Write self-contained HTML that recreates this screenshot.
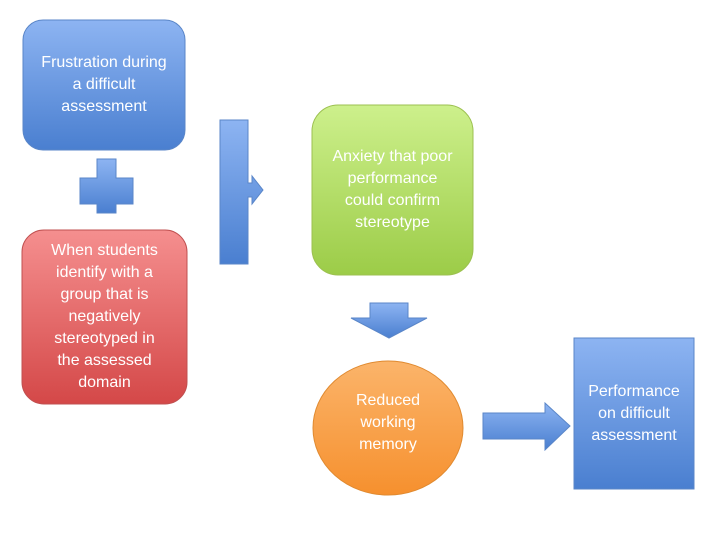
<!DOCTYPE html>
<html><head><style>
body{margin:0;width:720px;height:540px;background:#fff;overflow:hidden;position:relative;font-family:"Liberation Sans",sans-serif}
.b{position:absolute;display:flex;align-items:center;justify-content:center;text-align:center;color:#fff;font-size:16px;line-height:22px;box-sizing:border-box}
</style></head><body>
<svg width="720" height="540" style="position:absolute;left:0;top:0">
<defs>
<linearGradient id="bl" x1="0" y1="0" x2="0" y2="1"><stop offset="0" stop-color="#8db4f2"/><stop offset="1" stop-color="#4a7fd0"/></linearGradient>
<linearGradient id="rd" x1="0" y1="0" x2="0" y2="1"><stop offset="0" stop-color="#f58f8f"/><stop offset="1" stop-color="#d44848"/></linearGradient>
<linearGradient id="gr" x1="0" y1="0" x2="0" y2="1"><stop offset="0" stop-color="#cdf08c"/><stop offset="1" stop-color="#9ccc48"/></linearGradient>
<linearGradient id="or" x1="0" y1="0" x2="0" y2="1"><stop offset="0" stop-color="#fbb46a"/><stop offset="1" stop-color="#f6902e"/></linearGradient>
</defs>
<rect x="23" y="20" width="162" height="130" rx="20" fill="url(#bl)" stroke="#5a86c8"/>
<path d="M97 159h19v19h17v26h-17v9h-19v-9h-17v-26h17z" fill="url(#bl)" stroke="#5a86c8"/>
<rect x="22" y="230" width="165" height="174" rx="22" fill="url(#rd)" stroke="#c05050"/>
<path d="M220 120h28v63h4v-7l11 14l-11 14v-7h-4v67h-28z" fill="url(#bl)" stroke="#5a86c8"/>
<rect x="312" y="105" width="161" height="170" rx="26" fill="url(#gr)" stroke="#9cc050"/>
<path d="M370 303h38v15h19l-38 20l-38-20h19z" fill="url(#bl)" stroke="#5a86c8"/>
<ellipse cx="388" cy="428" rx="75" ry="67" fill="url(#or)" stroke="#e08a30"/>
<path d="M483 413h62v-10l25 23l-25 24v-11h-62z" fill="url(#bl)" stroke="#5a86c8"/>
<rect x="574" y="338" width="120" height="151" fill="url(#bl)" stroke="#5a86c8"/>
</svg>
<div class="b" style="left:23px;top:20px;width:162px;height:130px">Frustration during<br>a difficult<br>assessment</div>
<div class="b" style="left:22px;top:230px;width:165px;height:174px">When students<br>identify with a<br>group that is<br>negatively<br>stereotyped in<br>the assessed<br>domain</div>
<div class="b" style="left:312px;top:105px;width:161px;height:170px">Anxiety that poor<br>performance<br>could confirm<br>stereotype</div>
<div class="b" style="left:313px;top:356px;width:150px;height:134px">Reduced<br>working<br>memory</div>
<div class="b" style="left:574px;top:338px;width:120px;height:151px">Performance<br>on difficult<br>assessment</div>
</body></html>
